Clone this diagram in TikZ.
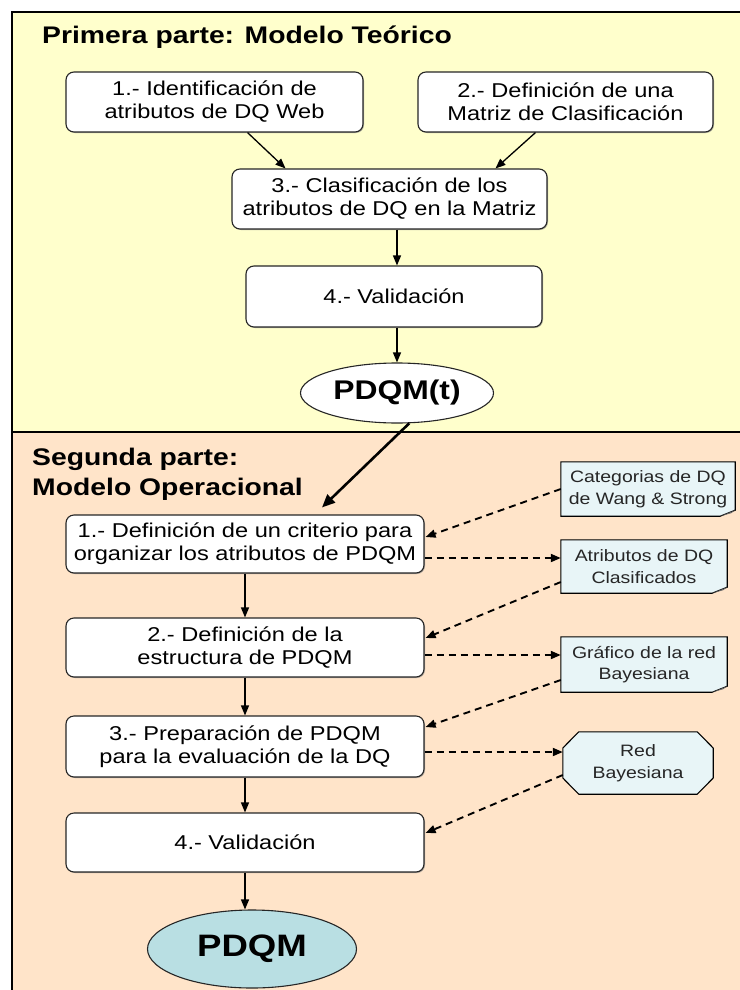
\documentclass[tikz,border=0pt]{standalone}
\usepackage{fontspec}
\setmainfont{Liberation Sans}[FakeStretch=1.18]
\usetikzlibrary{calc,shapes.geometric,shadows,arrows.meta}
\definecolor{parteuno}{HTML}{FFFFCC}
\definecolor{partedos}{HTML}{FFE4C9}
\definecolor{docfill}{HTML}{E8F5F7}
\definecolor{finfill}{HTML}{B9DFE3}
\newcommand{\pasofont}{\fontsize{20}{23}\selectfont}
\newcommand{\docfont}{\fontsize{16.5}{21.5}\selectfont}
\pgfdeclarelayer{fondo}
\pgfdeclarelayer{forma}
\pgfsetlayers{fondo,forma,main}
\tikzset{
  paso/.style = {draw=black!85, line width=1.1pt, fill=white, rounded corners=8pt,
    align=center, font=\pasofont, inner sep=0pt,
    drop shadow={shadow xshift=1pt, shadow yshift=-1pt, fill=black!50, opacity=0.6}},
  doc/.style = {align=center, font=\docfont, text=black!85, inner sep=0pt},
  fin/.style = {ellipse, draw=black!85, line width=1.1pt, inner sep=0pt, font=\bfseries},
  flujo/.style = {draw=black, line width=1.3pt, -{Triangle[length=10pt,width=8pt]}},
  dep/.style = {draw=black, line width=1.9pt, dash pattern=on 7pt off 5pt,
    -{Triangle[length=10pt,width=8pt]}},
  titulo/.style = {font=\fontsize{24}{30}\selectfont\bfseries, align=left, inner sep=0pt}
}

\begin{document}
\begin{tikzpicture}[x=1pt,y=-1pt]
  \useasboundingbox (0,0) rectangle (739,990);
  \begin{pgfonlayer}{fondo}
    \fill[parteuno] (12,12) rectangle (745,432);
    \fill[partedos] (12,432) rectangle (745,995);
    \draw[line width=1.6pt] (12,995) -- (12,12) -- (745,12);
    \draw[line width=1.6pt] (12,432) -- (745,432);
  \end{pgfonlayer}

  % primera parte
  \node[titulo, anchor=base west] (t1) at (42,44) {Primera parte: Modelo Teórico};
  \node[paso, minimum width=297, minimum height=60] (b1) at (214.5,102)
    {1.- Identificación de\\atributos de DQ Web};
  \node[paso, minimum width=295, minimum height=60] (b2) at (565.5,102)
    {2.- Definición de una\\Matriz de Clasificación};
  \node[paso, minimum width=315, minimum height=60] (b3) at (389.5,199)
    {3.- Clasificación de los\\atributos de DQ en la Matriz};
  \node[paso, minimum width=296, minimum height=61] (b4) at (394,296.5) {4.- Validación};
  \node[fin, fill=white, minimum width=193, minimum height=60,
    font=\fontsize{27}{30}\selectfont\bfseries] (pt) at (397,393) {PDQM(t)};

  \draw[flujo] ($(b1.south)+(33,0)$) -- ($(b3.north)+(-104,0)$);
  \draw[flujo] ($(b2.south)+(-30,0)$) -- ($(b3.north)+(106,0)$);
  \draw[flujo] (b3.south -| pt.north) -- (b4.north -| pt.north);
  \draw[flujo] (b4.south -| pt.north) -- (pt.north);

  % segunda parte
  \node[titulo, anchor=north west] (t2) at (32,447.5) {Segunda parte:\\Modelo Operacional};
  \node[paso, minimum width=358, minimum height=58] (a1) at (245,544)
    {1.- Definición de un criterio para\\organizar los atributos de PDQM};
  \node[paso, minimum width=358, minimum height=59] (a2) at (245,647.5)
    {2.- Definición de la\\estructura de PDQM};
  \node[paso, minimum width=358, minimum height=61] (a3) at (245,746.5)
    {3.- Preparación de PDQM\\para la evaluación de la DQ};
  \node[paso, minimum width=358, minimum height=59] (a4) at (245,842.5) {4.- Validación};
  \node[fin, fill=finfill, minimum width=209, minimum height=78,
    font=\fontsize{31}{34}\selectfont\bfseries] (pd) at (252,949) {PDQM};

  \node[doc, minimum width=174, minimum height=54] (n1) at (648,489)
    {Categorias de DQ\\de Wang \& Strong};
  \node[doc, minimum width=166, minimum height=53] (n2) at (644,566.5)
    {Atributos de DQ\\Clasificados};
  \node[doc, minimum width=166, minimum height=55] (n3) at (644,664.5)
    {Gráfico de la red\\Bayesiana};
  \node[doc, minimum width=150, minimum height=62] (red) at (638,763)
    {Red\\Bayesiana};

  \begin{pgfonlayer}{forma}
    \foreach \n in {n1,n2,n3}{
      \draw[line width=1.1pt, fill=docfill] (\n.north west) -- (\n.north east)
        -- ($(\n.south east)+(0,-6)$) -- ($(\n.south east)+(-15,0)$)
        -- (\n.south west) -- cycle;
      \fill[black!60] ($(\n.south east)+(0,-6)$) -- ($(\n.south east)+(-15,0)$)
        -- ($(\n.south east)+(-4,-3)$) -- cycle;
    }
    \draw[line width=1.1pt, fill=docfill] ($(red.west)+(0,-15)$)
      -- ($(red.north west)+(16,0)$) -- ($(red.north east)+(-16,0)$)
      -- ($(red.east)+(0,-15)$) -- ($(red.east)+(0,15)$)
      -- ($(red.south east)+(-16,0)$) -- ($(red.south west)+(16,0)$)
      -- ($(red.west)+(0,15)$) -- cycle;
  \end{pgfonlayer}

  \draw[flujo, line width=2.6pt, -{Triangle[length=13pt,width=11pt]}]
    (pt.-68) -- ($(a1.north)+(77,-7)$);
  \foreach \p/\q in {a1/a2,a2/a3,a3/a4}
    \draw[flujo] (\p) -- (\q);
  \draw[flujo] (a4.south) -- (a4.south |- pd.north);

  \draw[dep] (n1.west) -- ($(a1.east)+(1,-7)$);
  \draw[dep] ($(a1.east)+(0,14)$) -- ($(n2.west)+(0,-8.5)$);
  \draw[dep] ($(n2.west)+(0,15.5)$) -- ($(a2.east)+(1,-9.5)$);
  \draw[dep] ($(a2.east)+(0,7.5)$) -- ($(n3.west)+(0,-9.5)$);
  \draw[dep] ($(n3.west)+(0,15.5)$) -- ($(a3.east)+(1,-19.5)$);
  \draw[dep] ($(a3.east)+(0,5.5)$) -- ($(red.west)+(0,-11)$);
  \draw[dep] ($(red.west)+(0,12)$) -- ($(a4.east)+(1,-9.5)$);
\end{tikzpicture}
\end{document}
